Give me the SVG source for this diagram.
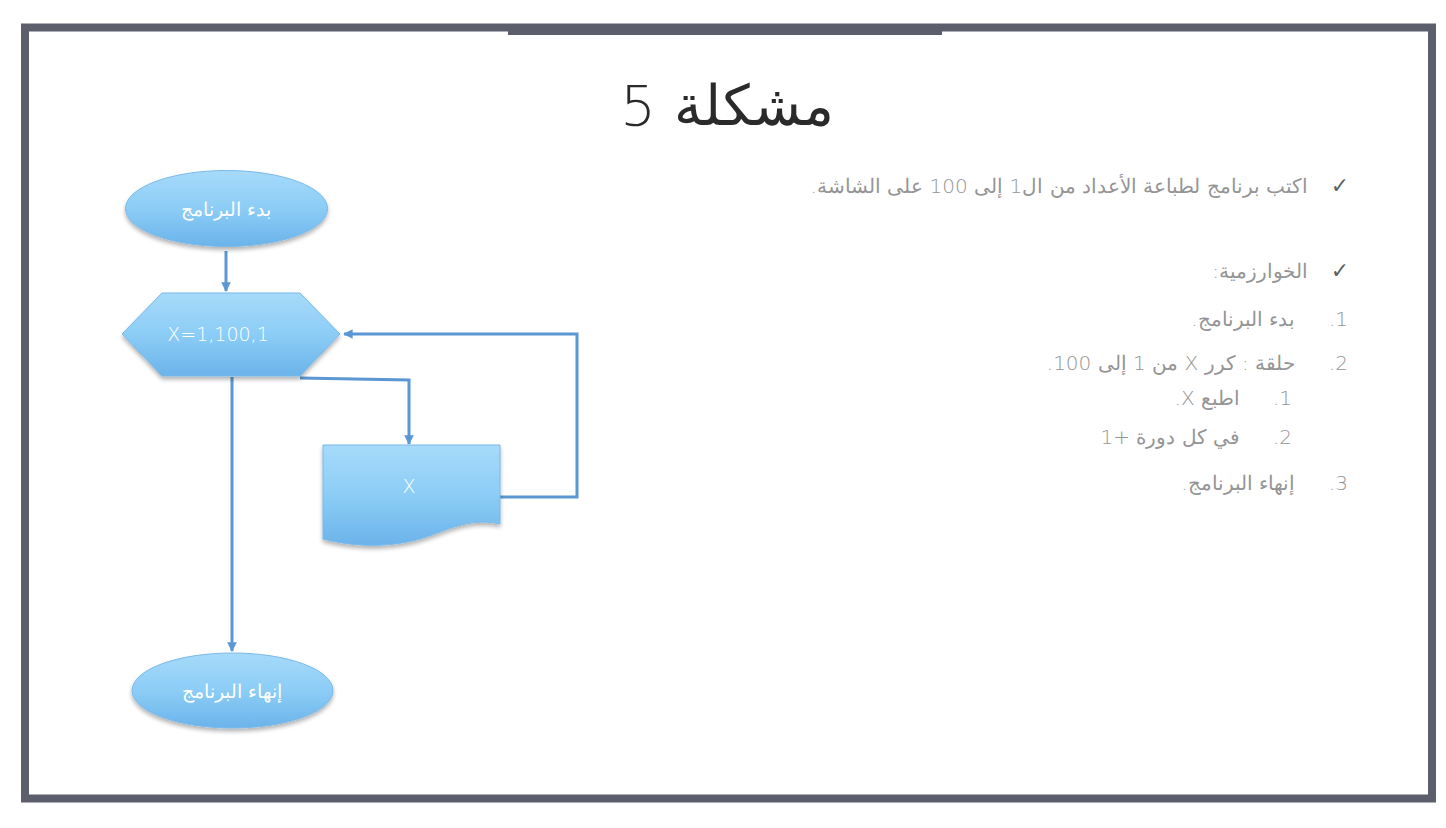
<svg xmlns="http://www.w3.org/2000/svg" width="1446" height="828" viewBox="0 0 1446 828">
<style>
.ar{font-family:"DejaVu Sans",sans-serif;direction:rtl;unicode-bidi:embed;}
.body{font-size:20px;fill:#959595;font-weight:200;}
.num{font-family:"DejaVu Sans",sans-serif;font-size:20px;fill:#959595;font-weight:200;}
.chk{font-family:"DejaVu Sans",sans-serif;font-size:22px;fill:#5f5f5f;font-weight:bold;}
.nodetxt{font-family:"DejaVu Sans",sans-serif;font-size:19px;fill:#ffffff;font-weight:200;}
.shape{fill:url(#g);stroke:#79b9ea;stroke-width:1;filter:url(#sh);}
.conn{fill:none;stroke:#5b97d2;stroke-width:3;}
</style>
<defs>
<linearGradient id="g" x1="0" y1="0" x2="0" y2="1">
<stop offset="0" stop-color="#a6dafa"/>
<stop offset="0.5" stop-color="#8ccdf6"/>
<stop offset="1" stop-color="#6bb3ea"/>
</linearGradient>
<filter id="sh" x="-10%" y="-10%" width="120%" height="130%">
<feGaussianBlur in="SourceAlpha" stdDeviation="2"/>
<feOffset dx="0" dy="3" result="b"/>
<feComponentTransfer><feFuncA type="linear" slope="0.3"/></feComponentTransfer>
<feMerge><feMergeNode/><feMergeNode in="SourceGraphic"/></feMerge>
</filter>
<marker id="arr" viewBox="0 0 10 10" refX="9" refY="5" markerWidth="3.2" markerHeight="3.2" orient="auto">
<path d="M0,0 L10,5 L0,10 Z" fill="#5b97d2"/>
</marker>
</defs>
<rect x="0" y="0" width="1446" height="828" fill="#ffffff"/>
<g id="frame">
<rect x="25" y="27.5" width="1407" height="771" fill="none" stroke="#5d5e6c" stroke-width="8"/>
<rect x="508" y="24" width="434" height="11" fill="#5d5e6c"/>
</g>
<g id="title">
<text x="727" y="125" text-anchor="middle" class="ar" font-size="56" font-weight="200" fill="#2a2a2a">مشكلة 5</text>
</g>
<g id="content">
<text x="1340" y="193" class="chk" text-anchor="middle">✓</text>
<text x="1308" y="193" class="ar body" text-anchor="start">اكتب برنامج لطباعة الأعداد من ال1 إلى 100 على الشاشة.</text>
<text x="1340" y="278" class="chk" text-anchor="middle">✓</text>
<text x="1308" y="278" class="ar body" text-anchor="start">الخوارزمية:</text>
<text x="1348" y="326" class="ar num" text-anchor="start">1.</text>
<text x="1295" y="326" class="ar body" text-anchor="start">بدء البرنامج.</text>
<text x="1348" y="370" class="ar num" text-anchor="start">2.</text>
<text x="1295" y="370" class="ar body" text-anchor="start">حلقة : كرر X من 1 إلى 100.</text>
<text x="1292" y="405" class="ar num" text-anchor="start">1.</text>
<text x="1240" y="405" class="ar body" text-anchor="start">اطبع X.</text>
<text x="1292" y="444" class="ar num" text-anchor="start">2.</text>
<text x="1240" y="444" class="ar body" text-anchor="start">في كل دورة +1</text>
<text x="1348" y="490" class="ar num" text-anchor="start">3.</text>
<text x="1295" y="490" class="ar body" text-anchor="start">إنهاء البرنامج.</text>
</g>
<g id="connectors">
<path class="conn" d="M226,251 V291" marker-end="url(#arr)"/>
<path class="conn" d="M232,377 V651" marker-end="url(#arr)"/>
<path class="conn" d="M300,378 L409,380 V444" marker-end="url(#arr)"/>
<path class="conn" d="M500,497 H577 V334 H344" marker-end="url(#arr)"/>
</g>
<g id="start">
<ellipse class="shape" cx="226.5" cy="208.5" rx="101" ry="38"/>
<text x="226" y="216" class="ar nodetxt" text-anchor="middle">بدء البرنامج</text>
</g>
<g id="loop">
<polygon class="shape" points="122,334 162,293 300,293 340,334 300,376 162,376"/>
<text x="218" y="341" class="nodetxt" text-anchor="middle">X=1,100,1</text>
</g>
<g id="print">
<path class="shape" d="M323,445 H500 V524 C465,516 440,535 412,541 C382,548 350,546 323,539 Z"/>
<text x="409" y="493" class="nodetxt" text-anchor="middle">X</text>
</g>
<g id="end">
<ellipse class="shape" cx="232.5" cy="690.5" rx="100.5" ry="37.5"/>
<text x="232" y="698" class="ar nodetxt" text-anchor="middle">إنهاء البرنامج</text>
</g>
</svg>
